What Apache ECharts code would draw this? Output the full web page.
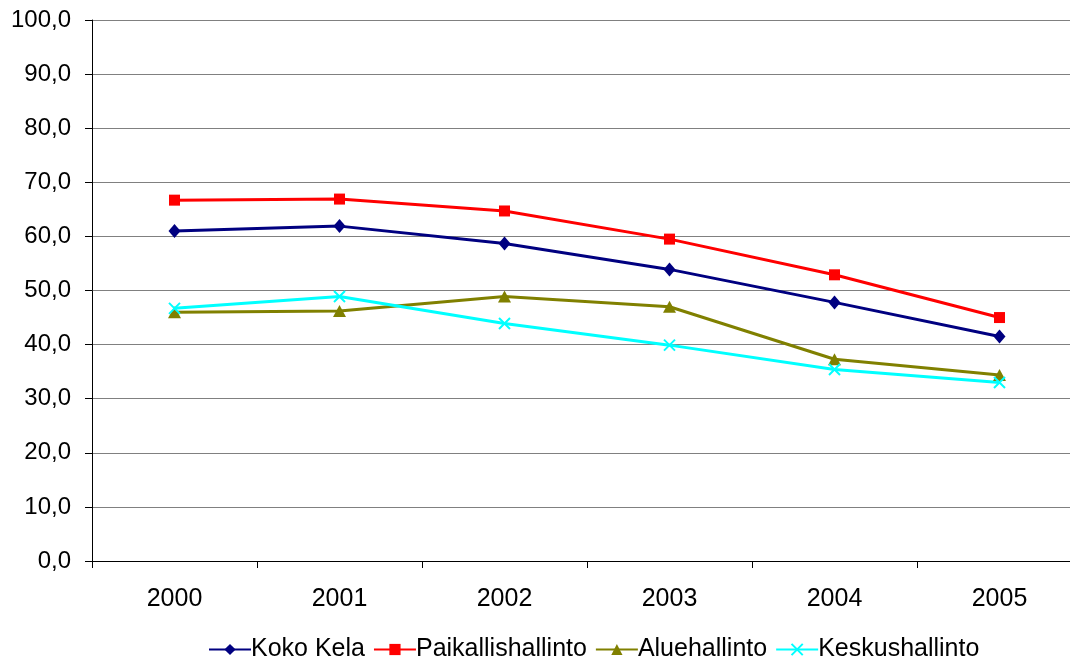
<!DOCTYPE html>
<html>
<head>
<meta charset="utf-8">
<script src="https://cdn.jsdelivr.net/npm/echarts@6/dist/echarts.min.js"></script>
<style>
  html, body { margin: 0; padding: 0; background: #ffffff; overflow: hidden; }
  /* the plot runs a little past the right edge of the window */
  #chart { width: 1082px; height: 659px; }
</style>
</head>
<body>
<div id="chart"></div>
<script>
// Vuodet ja sarjat
const years = ['2000', '2001', '2002', '2003', '2004', '2005'];
const kokoKela = [61.0, 61.9, 58.7, 53.9, 47.8, 41.5];
const paikallishallinto = [66.7, 66.9, 64.7, 59.5, 52.9, 45.0];
const aluehallinto = [46.0, 46.2, 48.9, 47.0, 37.3, 34.4];
const keskushallinto = [46.7, 48.9, 43.9, 39.9, 35.4, 33.0];
const yTicks = [0, 10, 20, 30, 40, 50, 60, 70, 80, 90, 100];

const font = 'Liberation Sans, Arial, sans-serif';
const crossPath = 'path://M0,0L10,10M10,0L0,10';

function lineSeries(name, data, color, symbol, size, extraItem) {
  return {
    name: name,
    type: 'line',
    data: data,
    symbol: symbol,
    symbolSize: size,
    lineStyle: { color: color, width: 3 },
    itemStyle: Object.assign({ color: color }, extraItem || {}),
    emphasis: { disabled: true },
    animation: false
  };
}

const chart = echarts.init(document.getElementById('chart'), null, { renderer: 'canvas' });
chart.setOption({
  backgroundColor: '#ffffff',
  textStyle: { fontFamily: font },
  grid: { left: 92, top: 20, right: 0, height: 541, containLabel: false },
  legend: {
    top: 632,
    left: 203,
    itemWidth: 42,
    itemHeight: 14,
    itemGap: 8,
    textStyle: { fontFamily: font, fontSize: 25, color: '#000000', padding: [0, 0, 0, -5] },
    data: ['Koko Kela', 'Paikallishallinto', 'Aluehallinto', 'Keskushallinto']
  },
  xAxis: {
    type: 'category',
    data: years,
    boundaryGap: true,
    axisLine: { lineStyle: { color: '#000000', width: 1 } },
    axisTick: { show: true, length: 7, lineStyle: { color: '#000000' } },
    axisLabel: { fontFamily: font, fontSize: 25, color: '#000000', margin: 26 },
    splitLine: { show: false }
  },
  yAxis: {
    type: 'value',
    min: yTicks[0],
    max: yTicks[yTicks.length - 1],
    interval: 10,
    axisLine: { show: true, lineStyle: { color: '#000000', width: 1 } },
    axisTick: { show: true, length: 7, lineStyle: { color: '#000000' } },
    axisLabel: {
      fontFamily: font, fontSize: 24, color: '#000000', margin: 21,
      formatter: v => v.toFixed(1).replace('.', ',')
    },
    splitLine: { show: true, lineStyle: { color: '#808080', width: 1 } }
  },
  series: [
    lineSeries('Koko Kela', kokoKela, '#000080', 'diamond', [12, 14]),
    lineSeries('Paikallishallinto', paikallishallinto, '#ff0000', 'rect', 11),
    lineSeries('Aluehallinto', aluehallinto, '#808000', 'triangle', [13, 12]),
    lineSeries('Keskushallinto', keskushallinto, '#00ffff', crossPath, 11,
      { borderColor: '#00ffff', borderWidth: 2 })
  ]
});
</script>
</body>
</html>
